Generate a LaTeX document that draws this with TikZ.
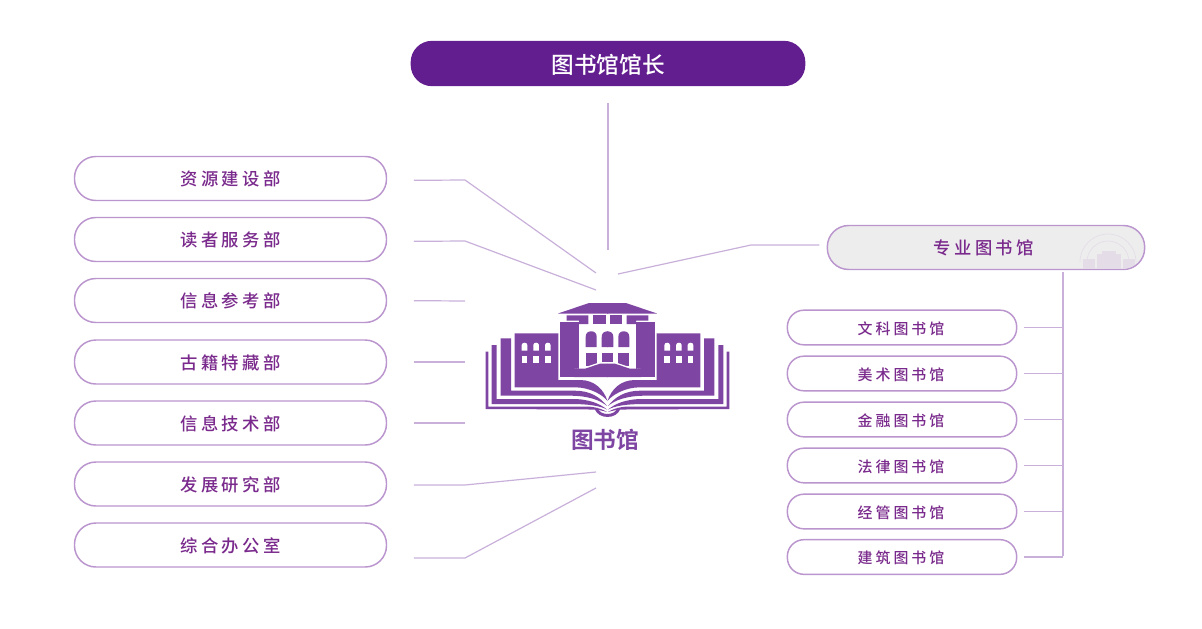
\documentclass[tikz,border=0pt]{standalone}
\usepackage{fontspec}
\usetikzlibrary{calc}
\newfontfamily\cjkmain{Noto Sans CJK SC Medium}
\newfontfamily\cjkwide[LetterSpace=20]{Noto Sans CJK SC Medium}
\newfontfamily\cjkbold{Noto Sans CJK SC Bold}
\definecolor{deeppurple}{HTML}{621D8F}
\definecolor{logopurple}{HTML}{7F45A3}
\definecolor{labelpurple}{HTML}{7A2A8C}
\definecolor{edgepurple}{HTML}{BA95CE}
\definecolor{linkpurple}{HTML}{C8B0DA}
\definecolor{paleface}{HTML}{EEEDEE}
\definecolor{faintmark}{HTML}{E4DDE7}
\tikzset{
	pill/.style = {draw = edgepurple, line width = 1.1pt, fill = white, text = labelpurple, align = center, inner sep = 0pt},
	deptbox/.style = {pill, minimum width = 234pt, minimum height = 33pt, rounded corners = 16pt, text height = 11.5pt, text depth = 1pt, font = \cjkwide\fontsize{13}{15}\selectfont},
	libbox/.style = {pill, minimum width = 172pt, minimum height = 26pt, rounded corners = 12.5pt, text height = 10.5pt, text depth = 0.5pt, font = \cjkwide\fontsize{11.2}{13}\selectfont},
	link/.style = {draw = linkpurple, line width = 0.9pt},
}
\begin{document}
\begin{tikzpicture}[x = 0.75pt, y = -0.75pt]
		\useasboundingbox (0, 0) rectangle (1202, 628);
		%%%%%%%%%%%%% top
		\node (head) [fill = deeppurple, text = white, minimum width = 296pt, minimum height = 34pt, rounded corners = 16pt, inner sep = 0pt, text height = 16.5pt, text depth = 1pt, font = \cjkmain\fontsize{17}{20}\selectfont] at (608, 63.5) {图书馆馆长};
		%%%%%%%%%%%%% left column
		\node (d1) [deptbox] at (230.5, 178.5) {资源建设部};
		\node (d2) [deptbox] at (230.5, 239.5) {读者服务部};
		\node (d3) [deptbox] at (230.5, 300.5) {信息参考部};
		\node (d4) [deptbox] at (230.5, 362) {古籍特藏部};
		\node (d5) [deptbox] at (230.5, 423) {信息技术部};
		\node (d6) [deptbox] at (230.5, 484) {发展研究部};
		\node (d7) [deptbox] at (230.5, 545) {综合办公室};
		%%%%%%%%%%%%% right column
		\node (spec) [deptbox, fill = paleface, minimum width = 238pt] at (986, 247.5) {\hspace*{-3.5pt}专业图书馆};
		\begin{scope}
			\clip (1040, 226) -- (1122, 226) arc (-90 : 90 : 22 and 21.5) -- (1040, 269) -- cycle;
			\draw [faintmark, line width = 0.5pt] (1080, 262) arc (180 : 360 : 28);
			\draw [faintmark, line width = 0.5pt] (1087, 262) arc (180 : 360 : 21);
			\fill [faintmark] (1097, 254) rectangle (1121, 269);
			\fill [faintmark] (1102, 251) rectangle (1116, 254);
			\fill [faintmark] (1083, 259) rectangle (1095, 269);
			\fill [faintmark] (1123, 259) rectangle (1135, 269);
		\end{scope}
		\node (b1) [libbox] at (902, 327.5) {\hspace*{-1.5pt}文科图书馆};
		\node (b2) [libbox] at (902, 373.5) {\hspace*{-1.5pt}美术图书馆};
		\node (b3) [libbox] at (902, 419.5) {\hspace*{-1.5pt}金融图书馆};
		\node (b4) [libbox] at (902, 465.5) {\hspace*{-1.5pt}法律图书馆};
		\node (b5) [libbox] at (902, 511.5) {\hspace*{-1.5pt}经管图书馆};
		\node (b6) [libbox] at (902, 557) {\hspace*{-1.5pt}建筑图书馆};
		%%%%%%%%%%%%% logo
		\foreach \mx / \ox in {1/0, -1/1215} {
			\begin{scope}[cm = {\mx, 0, 0, 1, (\ox, 0)}, fill = logopurple]
				\fill (608, 303) -- (589, 303) -- (558, 313.5) -- (608, 313.5) -- cycle;
				\fill (566.7, 315.3) -- (588.3, 315.3) -- (588.3, 324) -- (579, 324) -- (579, 320.7) -- (566.7, 320.7) -- cycle;
				\fill (593.3, 315.3) rectangle (605.5, 324);
				\fill (560, 322.3) rectangle (579, 376.7);
				\fill (585.7, 347) -- (585.7, 337) .. controls (585.7, 333) and (588, 331.3) .. (591.2, 331.3) .. controls (594.4, 331.3) and (596.7, 333) .. (596.7, 337) -- (596.7, 347) -- cycle;
				\fill (601.7, 347) -- (601.7, 337) .. controls (601.7, 333) and (604, 331.3) .. (608, 331.3) -- (608, 347) -- cycle;
				\fill (585.7, 353) rectangle (596.7, 366);
				\fill (601.7, 353) rectangle (608, 363.7);
				\fill [white] (584, 367.5) -- (600, 362.2) -- (608, 362.2) -- (608, 363.7) -- (574, 368.7) -- cycle;
				\fill (574, 368.7) -- (585, 368.7) -- (600, 363.7) -- (608, 363.7) -- (608, 377) -- (574, 377) -- cycle;
				% wing and pages
				\fill (514.7, 333.3) -- (558.3, 333.3) -- (558.3, 380) -- (580, 380) .. controls (595, 380) and (604, 390) .. (607.5, 401) .. controls (603, 395) and (590, 387.3) .. (575, 387.3) -- (514.7, 387.3) -- cycle;
				\fill (500.7, 338.3) -- (511, 338.3) -- (511, 390.7) -- (575, 390.7) .. controls (590, 390.7) and (600, 397) .. (607, 406) .. controls (600, 400) and (588, 395.7) .. (570, 395.7) -- (500.7, 395.7) -- cycle;
				\fill (491.7, 345) -- (496.7, 345) -- (496.7, 399) -- (572, 399) .. controls (590, 399) and (600, 404) .. (607, 409.5) .. controls (600, 406) and (590, 404) .. (570, 404) -- (491.7, 404) -- cycle;
				\fill (485.7, 351.7) -- (488.3, 351.7) -- (488.3, 406.7) -- (590, 406.7) .. controls (598, 407.5) and (603, 409.5) .. (607, 412) .. controls (602, 410.5) and (597, 409.5) .. (590, 409.5) -- (485.7, 409) -- cycle;
				\draw [logopurple, line width = 2.2pt] (596, 408.5) .. controls (598, 413) and (602, 415.5) .. (608, 415.5);
				% wing windows
				\foreach \wx in {521.7, 533.3, 545} {
					\fill [white] (\wx, 350.7) -- (\wx, 345) .. controls (\wx, 343.5) and (\wx + 1.5, 342.7) .. (\wx + 2.8, 342.7) .. controls (\wx + 4.1, 342.7) and (\wx + 5.6, 343.5) .. (\wx + 5.6, 345) -- (\wx + 5.6, 350.7) -- cycle;
					\fill [white] (\wx, 356) rectangle (\wx + 5.6, 362.7);
				}
			\end{scope}
		}
		\node (logo) [text = logopurple, inner sep = 0pt, font = \cjkbold\fontsize{17}{20}\selectfont] at (605, 440) {图书馆};
		%%%%%%%%%%%%% hub points
		\coordinate (h1) at (596, 273);
		\coordinate (h2) at (596, 290);
		\coordinate (h3) at (596, 472);
		\coordinate (h4) at (596, 488);
		\coordinate (h5) at (618, 274);
		\coordinate (h6) at (608, 250);
		\coordinate (busend) at (1063, 556);
		%%%%%%%%%%%%% connectors
		\draw [link, shorten <= 20pt] ([yshift = -1.5pt]d1.east) -- (465, 180) -- (h1);
		\draw [link, shorten <= 20pt] ([yshift = -1.5pt]d2.east) -- (465, 241) -- (h2);
		\draw [link, shorten <= 20pt] (d3.east) -- (465, 301);
		\draw [link, shorten <= 20pt] (d4.east) -- (465, 362);
		\draw [link, shorten <= 20pt] (d5.east) -- (465, 423);
		\draw [link, shorten <= 20pt] ([yshift = -0.75pt]d6.east) -- (465, 485) -- (h3);
		\draw [link, shorten <= 20pt] ([yshift = -9.75pt]d7.east) -- (465, 558) -- (h4);
		\draw [link, shorten <= 12.75pt] (head.south) -- (h6);
		\draw [link, shorten <= 5.5pt] ([yshift = 1.9pt]spec.west) -- (751, 245) -- (h5);
		\draw [link, shorten <= 1.5pt] (spec.south -| busend) -- (busend);
		\draw [link, shorten <= 5pt] (b1.east) -- (b1.east -| busend);
		\draw [link, shorten <= 5pt] (b2.east) -- (b2.east -| busend);
		\draw [link, shorten <= 5pt] (b3.east) -- (b3.east -| busend);
		\draw [link, shorten <= 5pt] (b4.east) -- (b4.east -| busend);
		\draw [link, shorten <= 5pt] (b5.east) -- (b5.east -| busend);
		\draw [link, shorten <= 5pt] (b6.east) -- (b6.east -| busend);
\end{tikzpicture}
\end{document}
